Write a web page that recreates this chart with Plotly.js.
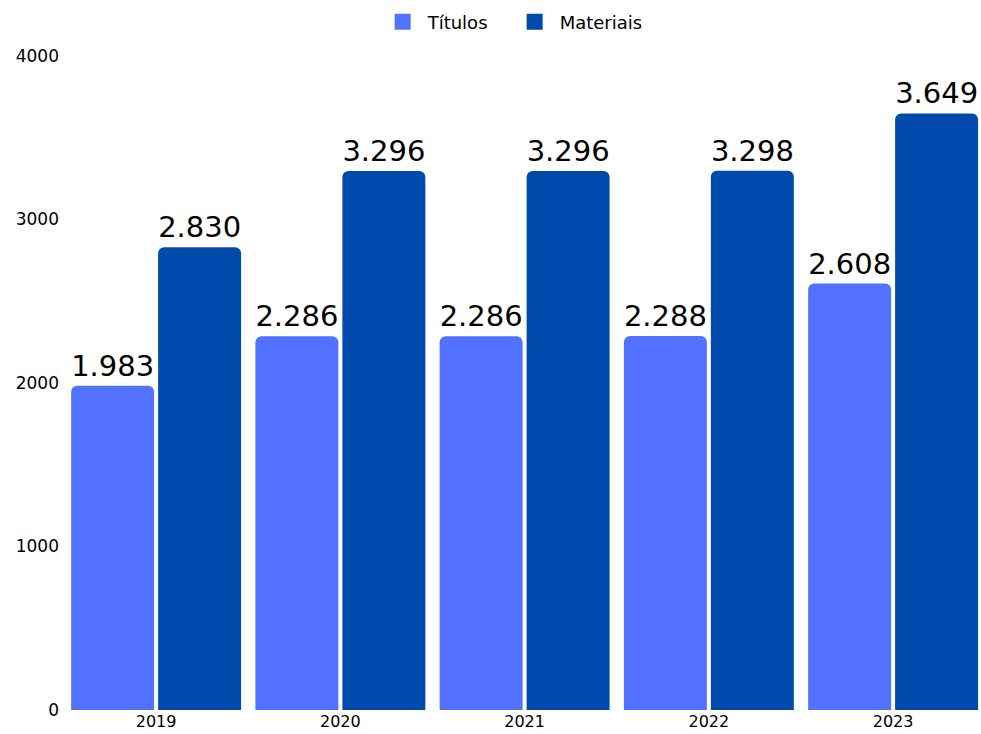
<!DOCTYPE html>
<html>
<head>
<meta charset="utf-8">
<script src="https://cdn.plot.ly/plotly-3.0.1.min.js"></script>
<style>html,body{margin:0;padding:0;background:#fff;}#chart{width:981px;height:734px;}</style>
</head>
<body>
<div id="chart"></div>
<script>
const years = ['2019', '2020', '2021', '2022', '2023'];
const titulos = [1983, 2286, 2286, 2288, 2608];
const materiais = [2830, 3296, 3296, 3298, 3649];
const seriesNames = ['Títulos', 'Materiais'];
const colors = ['#5271FF', '#004AAD'];
const yTicks = [0, 1000, 2000, 3000, 4000];

const fontFam = '"DejaVu Sans", sans-serif';

function barTrace(name, values, color) {
  return {
    type: 'bar', name: name, x: years, y: values, showlegend: false,
    marker: {color: color, cornerradius: 6},
    texttemplate: '%{y:,}', textposition: 'outside', cliponaxis: false,
    textfont: {size: 29, color: '#000', family: fontFam}
  };
}
function legendTrace(name, color) {
  return {
    type: 'scatter', mode: 'markers', name: name, x: [years[0]], y: [null],
    marker: {symbol: 'square', size: 20, color: color}, hoverinfo: 'skip'
  };
}

const traces = [
  barTrace(seriesNames[0], titulos, colors[0]),
  barTrace(seriesNames[1], materiais, colors[1]),
  legendTrace(seriesNames[0], colors[0]),
  legendTrace(seriesNames[1], colors[1])
];

const layout = {
  width: 981, height: 734,
  margin: {l: 64, r: 0, t: 56, b: 24, autoexpand: false},
  paper_bgcolor: '#fff', plot_bgcolor: '#fff',
  separators: ',.',
  font: {family: fontFam, color: '#000', size: 16},
  barmode: 'group', bargap: 0.056, bargroupgap: 0.046,
  showlegend: true,
  legend: {orientation: 'h', x: 0.486, xanchor: 'center', y: 1.052, yanchor: 'middle',
           font: {size: 18, family: fontFam}, itemwidth: 40, entrywidth: 77, traceorder: 'normal'},
  xaxis: {type: 'category', range: [-0.5, 4.477], automargin: false, showgrid: false, zeroline: false,
          showline: false, ticks: '', tickfont: {size: 16}},
  yaxis: {range: [0, 4000], automargin: false, tickvals: yTicks, showgrid: false, zeroline: false, showline: false,
          ticks: '', tickfont: {size: 17}, ticklabelstandoff: 4}
};

Plotly.newPlot('chart', traces, layout, {displayModeBar: false, responsive: false});
</script>
</body>
</html>
